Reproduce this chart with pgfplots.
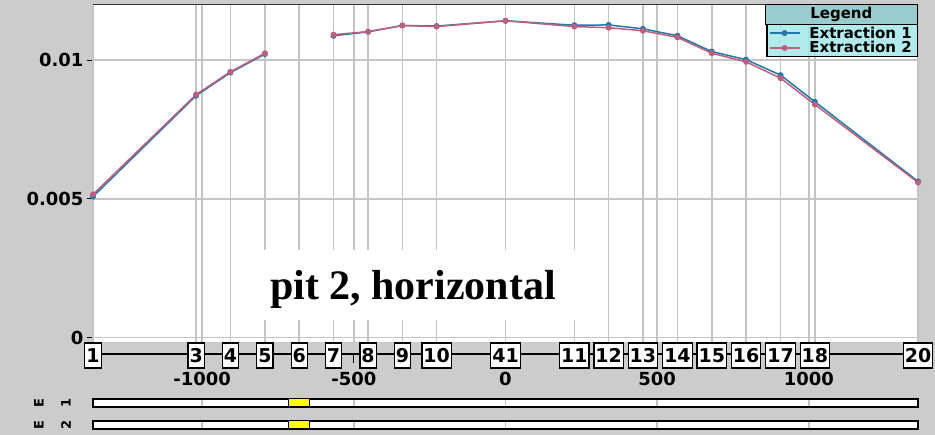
\documentclass[border=0pt]{standalone}
\usepackage{fontspec}
\setmainfont{DejaVu Sans}
\newfontfamily\titlefont{Liberation Serif}
\usepackage{pgfplots}
\usepackage{pgfplotstable}
\pgfplotsset{compat=1.18}

\definecolor{panelgray}{RGB}{204,204,204}
\definecolor{gridgray}{RGB}{196,196,196}
\definecolor{extblue}{RGB}{35,120,170}
\definecolor{extpink}{RGB}{190,95,125}
\definecolor{leghead}{RGB}{153,204,204}
\definecolor{legbody}{RGB}{164,232,232}
\definecolor{gapyellow}{RGB}{255,255,0}

% position along the pit (x) and the two extractions
\pgfplotstableread{
x      y1       y2
-1360  0.00508  0.00516
-1020  0.00872  0.00876
-907   0.00955  0.00958
-793   0.01022  0.01025
-680   nan      nan
-567   0.01088  0.01092
-453   0.01102  0.01103
-340   0.01125  0.01125
-227   0.01123  0.01121
0      0.01142  0.01142
227    0.01126  0.01121
340    0.01127  0.01117
453    0.01113  0.01106
567    0.01088  0.01082
680    0.01031  0.01025
793    0.01002  0.00994
907    0.00946  0.00935
1020   0.00850  0.00840
1360   0.00563  0.00559
}\extraction

% station numbers along the axis line
\pgfplotstableread{
x      y      lab
-1360  -13.5  1
-1020  -13.5  3
-907   -13.5  4
-793   -13.5  5
-680   -13.5  6
-567   -13.5  7
-453   -13.5  8
-340   -13.5  9
-227   -13.5  10
0      -13.5  41
227    -13.5  11
340    -13.5  12
453    -13.5  13
567    -13.5  14
680    -13.5  15
793    -13.5  16
907    -13.5  17
1020   -13.5  18
1360   -13.5  20
}\stations

\pgfplotstableread{
x      y    lab
-1000  -37  -1000
-500   -37  -500
0      -37  0
500    -37  500
1000   -37  1000
}\distlabels

\newcommand\tickfont{\bfseries\fontsize{18}{18}\selectfont}
\newcommand\boxfont{\bfseries\fontsize{19}{19}\selectfont}
\newcommand\legfont{\bfseries\fontsize{15}{16}\selectfont}
\newcommand\trackfont{\bfseries\fontsize{13}{13}\selectfont}

\pgfplotsset{
  trackbar/.style={
    scale only axis, width=825pt, height=8pt,
    xmin=-1360, xmax=1360, ymin=0, ymax=1,
    axis background/.style={fill=white},
    axis line style={black, line width=1.2pt},
    xtick={-1000,-500,0,500,1000}, xticklabels={},
    xtick style={draw=none}, ytick=\empty,
    xmajorgrids, grid style={gridgray, line width=1.5pt},
  },
}

\begin{document}
\begin{tikzpicture}
\fill[panelgray] (-93pt,-93pt) rectangle (842pt,342pt);

\begin{axis}[
  at={(0pt,0pt)}, anchor=south west,
  scale only axis, width=825pt, height=337.3pt,
  xmin=-1360, xmax=1360, ymin=-0.000162, ymax=0.012,
  axis background/.style={fill=white},
  axis x line*=top, axis y line*=left,
  x axis line style={draw=black!80, line width=1.6pt},
  y axis line style={draw=gridgray, line width=1pt},
  xtick={-1360,-1020,-1000,-907,-793,-680,-567,-500,-453,-340,-227,0,227,340,453,500,567,680,793,907,1000,1020,1360},
  xticklabels={}, xtick style={draw=none},
  ytick={0,0.005,0.01},
  ytick align=outside,
  ytick style={black, line width=1.2pt},
  major tick length=6pt,
  scaled y ticks=false,
  yticklabel style={font=\tickfont,
    /pgf/number format/fixed, /pgf/number format/precision=3,
    /pgf/number format/assume math mode=true},
  xmajorgrids, ymajorgrids,
  grid style={gridgray, line width=1.6pt},
  unbounded coords=jump,
  legend style={at={(1,0.9428)}, anchor=north east,
    fill=legbody, fill opacity=0.85, text opacity=1, draw opacity=1,
    draw=black, line width=1.3pt, font=\legfont,
    inner xsep=2pt, inner ysep=1pt, row sep=0pt,
    nodes={inner sep=1pt}, cells={anchor=west}},
  legend image code/.code={
    \draw[mark repeat=2, mark phase=2, #1]
      plot coordinates {(0pt,0pt) (15pt,0pt) (30pt,0pt)};},
]
\addplot[extblue, line width=1.5pt, mark=*, mark size=2.2pt]
  table[x=x, y=y1] {\extraction};
\addlegendentry{\makebox[113pt][l]{\hspace{8pt}Extraction 1}}
\addplot[extpink, line width=1.5pt, mark=*, mark size=2.2pt]
  table[x=x, y=y2] {\extraction};
\addlegendentry{\makebox[113pt][l]{\hspace{8pt}Extraction 2}}
\end{axis}

% legend heading
\node[draw=black, line width=1.3pt, fill=leghead, anchor=north east,
      minimum width=152pt, minimum height=20pt, inner sep=0pt, font=\legfont]
  at (825pt,338pt) {Legend};

% title panel
\node[fill=white, minimum width=314pt, minimum height=70pt, inner sep=0pt]
  at (326pt,57pt) {};
\node[anchor=base, font=\titlefont\bfseries\fontsize{42}{42}\selectfont]
  at (320pt,42pt) {pit 2, horizontal};

% distance axis with station boxes
\begin{axis}[
  at={(0pt,-93pt)}, anchor=south west,
  scale only axis, width=825pt, height=93pt,
  xmin=-1360, xmax=1360, ymin=-93, ymax=0,
  hide axis, clip=false,
]
\addplot[black, line width=1.3pt] coordinates {(-1360,-12) (1360,-12)};
\addplot[black, line width=1.3pt] coordinates {(-1000,-12) (-1000,-21)};
\addplot[black, line width=1.3pt] coordinates {(-500,-12) (-500,-21)};
\addplot[black, line width=1.3pt] coordinates {(0,-12) (0,-21)};
\addplot[black, line width=1.3pt] coordinates {(500,-12) (500,-21)};
\addplot[black, line width=1.3pt] coordinates {(1000,-12) (1000,-21)};
\addplot[draw=none, nodes near coords, point meta=explicit symbolic,
  nodes near coords style={anchor=center, draw=black, fill=white,
    line width=1.2pt, inner sep=1.5pt, minimum height=25pt, font=\boxfont}]
  table[x=x, y=y, meta=lab] {\stations};
\addplot[draw=none, nodes near coords, point meta=explicit symbolic,
  nodes near coords style={anchor=center, font=\tickfont}]
  table[x=x, y=y, meta=lab] {\distlabels};
\end{axis}

% coverage tracks of the two extractions
\begin{axis}[trackbar, at={(0pt,-65pt)}, anchor=south west]
\addplot[fill=gapyellow, draw=black, line width=1pt]
  coordinates {(-717,0) (-645,0) (-645,1) (-717,1)} -- cycle;
\end{axis}
\begin{axis}[trackbar, at={(0pt,-87pt)}, anchor=south west]
\addplot[fill=gapyellow, draw=black, line width=1pt]
  coordinates {(-717,0) (-645,0) (-645,1) (-717,1)} -- cycle;
\end{axis}

\node[rotate=90, font=\trackfont] at (-54pt,-61pt) {E};
\node[rotate=90, font=\trackfont] at (-27pt,-61pt) {1};
\node[rotate=90, font=\trackfont] at (-54pt,-83pt) {E};
\node[rotate=90, font=\trackfont] at (-27pt,-83pt) {2};

\pgfresetboundingbox
\useasboundingbox (-93pt,-93pt) rectangle (842pt,342pt);
\end{tikzpicture}
\end{document}
